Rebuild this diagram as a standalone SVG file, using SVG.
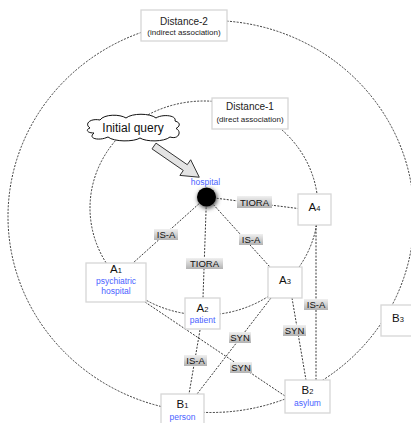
<svg xmlns="http://www.w3.org/2000/svg" width="411" height="423" viewBox="0 0 411 423">
<style>
  .ring{fill:none;stroke:#222;stroke-width:0.9;stroke-dasharray:2,1.4}
  .edge{fill:none;stroke:#222;stroke-width:0.9;stroke-dasharray:2,1.4}
  .box{fill:#fff;stroke:#d6d6d6;stroke-width:1.3}
  .lbl{fill:url(#lg)}
  .lt{font-family:"Liberation Sans",Arial,sans-serif;font-size:9.5px;fill:#111;text-anchor:middle}
  .nt{font-family:"Liberation Sans",Arial,sans-serif;font-size:11.5px;fill:#111;text-anchor:middle}
  .sub{font-size:7.5px}
  .bt{font-family:"Liberation Sans",Arial,sans-serif;font-size:8.5px;fill:#4a63ff;text-anchor:middle}
  .dt{font-family:"Liberation Sans",Arial,sans-serif;font-size:10px;fill:#222;text-anchor:middle}
  .ds{font-family:"Liberation Sans",Arial,sans-serif;font-size:8px;fill:#222;text-anchor:middle}
</style>
<defs>
  <linearGradient id="lg" x1="0" y1="0" x2="0" y2="1">
    <stop offset="0" stop-color="#f0f0f0"/>
    <stop offset="1" stop-color="#b2b2b2"/>
  </linearGradient>
  <filter id="blur" x="-1" y="-1" width="3" height="3">
    <feGaussianBlur stdDeviation="2"/>
  </filter>
</defs>
<rect width="411" height="423" fill="#fff"/>

<g id="rings">
  <ellipse class="ring" cx="211" cy="216.5" rx="203" ry="196"/>
  <ellipse class="ring" cx="204" cy="208" rx="114" ry="107"/>
</g>

<g id="connectors">
  <line class="edge" x1="206.5" y1="197" x2="298" y2="208.5"/>
  <line class="edge" x1="206.5" y1="197" x2="133" y2="263"/>
  <line class="edge" x1="206.5" y1="197" x2="203" y2="298"/>
  <line class="edge" x1="206.5" y1="197" x2="270" y2="267"/>
  <line class="edge" x1="316" y1="225" x2="316" y2="380"/>
  <line class="edge" x1="292" y1="298" x2="306" y2="380"/>
  <line class="edge" x1="271" y1="298" x2="197" y2="394"/>
  <line class="edge" x1="145" y1="302" x2="285" y2="396"/>
  <line class="edge" x1="200" y1="330" x2="189" y2="394"/>
  <g id="edge-labels">
    <rect class="lbl" x="237" y="196" width="35" height="12"/><text class="lt" x="254.5" y="205.5">TIORA</text>
    <rect class="lbl" x="154" y="229" width="24" height="11"/><text class="lt" x="166" y="238">IS-A</text>
    <rect class="lbl" x="239" y="234" width="24" height="11"/><text class="lt" x="251" y="243">IS-A</text>
    <rect class="lbl" x="186" y="258" width="37" height="11"/><text class="lt" x="204.5" y="267">TIORA</text>
    <rect class="lbl" x="304" y="299" width="24" height="11"/><text class="lt" x="316" y="308">IS-A</text>
    <rect class="lbl" x="283" y="325" width="23" height="11"/><text class="lt" x="294.5" y="334">SYN</text>
    <rect class="lbl" x="229" y="332" width="22" height="11"/><text class="lt" x="240" y="341">SYN</text>
    <rect class="lbl" x="230" y="362" width="22" height="11"/><text class="lt" x="241" y="371">SYN</text>
    <rect class="lbl" x="184" y="355" width="23" height="11"/><text class="lt" x="195.5" y="364">IS-A</text>
  </g>
</g>

<g id="distance2">
  <rect class="box" x="141" y="10" width="86" height="31"/>
  <text class="dt" x="184" y="25">Distance-2</text>
  <text class="ds" x="184" y="34.5">(indirect association)</text>
</g>

<g id="distance1">
  <rect class="box" x="212" y="98" width="76" height="31"/>
  <text class="dt" x="250" y="110">Distance-1</text>
  <text class="ds" x="250" y="121.5">(direct association)</text>
</g>

<g id="initial-query">
  <path d="M90,128 C84,124 90,118 100,120 C104,114 120,114 126,118 C132,113 150,113 156,118 C162,114 177,115 175,121 C182,123 179,127 176,128.5 C182,131 179,140 170,137 C164,142 146,142 140,138 C134,142 114,142 108,137 C100,141 87,139 94,133 C86,133 86,129 90,128 Z" fill="#fff" stroke="#111" stroke-width="1"/>
  <text x="133" y="132" font-family="'Liberation Sans',Arial,sans-serif" font-size="12" fill="#111" text-anchor="middle">Initial query</text>
</g>

<g id="query-arrow">
  <path transform="translate(154,146) rotate(34.6)" d="M0,-3.5 L38,-3.5 L38,-9.5 L55,0 L38,9.5 L38,3.5 L0,3.5 Z" fill="#e4e4e4" stroke="#333" stroke-width="0.9"/>
</g>

<g id="hospital">
  <circle cx="207.5" cy="198.5" r="10" fill="#555" filter="url(#blur)"/>
  <circle cx="206.5" cy="197" r="9.5" fill="#000"/>
  <text class="bt" x="205.5" y="184.5">hospital</text>
</g>

<g id="A1">
  <rect class="box" x="86" y="263" width="60" height="39"/>
  <text class="nt" x="116" y="273">A<tspan class="sub">1</tspan></text>
  <text class="bt" x="116" y="283.5">psychiatric</text>
  <text class="bt" x="116" y="294">hospital</text>
</g>

<g id="A2">
  <rect class="box" x="185" y="298" width="35" height="31"/>
  <text class="nt" x="202.5" y="312">A<tspan class="sub">2</tspan></text>
  <text class="bt" x="202.5" y="323">patient</text>
</g>

<g id="A3">
  <rect class="box" x="268" y="267" width="34" height="31"/>
  <text class="nt" x="285" y="284">A<tspan class="sub">3</tspan></text>
</g>

<g id="A4">
  <rect class="box" x="298" y="194" width="33" height="31"/>
  <text class="nt" x="314.5" y="211">A<tspan class="sub">4</tspan></text>
</g>

<g id="B1">
  <rect class="box" x="161" y="394" width="43" height="36"/>
  <text class="nt" x="182.5" y="408">B<tspan class="sub">1</tspan></text>
  <text class="bt" x="182.5" y="420">person</text>
</g>

<g id="B2">
  <rect class="box" x="285" y="380" width="45" height="33"/>
  <text class="nt" x="307.5" y="394">B<tspan class="sub">2</tspan></text>
  <text class="bt" x="307.5" y="406">asylum</text>
</g>

<g id="B3">
  <rect class="box" x="381" y="305" width="36" height="31"/>
  <text class="nt" x="398" y="322">B<tspan class="sub">3</tspan></text>
</g>
</svg>
